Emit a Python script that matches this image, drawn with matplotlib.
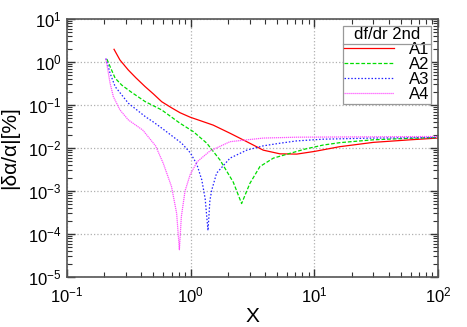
import matplotlib
matplotlib.use("Agg")
import matplotlib.pyplot as plt
from matplotlib.lines import Line2D

plt.rcParams['font.family'] = ['Liberation Sans', 'DejaVu Sans']
plt.rcParams['mathtext.fontset'] = 'custom'
plt.rcParams['mathtext.rm'] = 'Liberation Sans'
plt.rcParams['mathtext.it'] = 'Liberation Sans:italic'

# values
a1_x = [0.24, 0.268, 0.313, 0.36, 0.428, 0.5, 0.583, 0.7, 0.82, 0.99, 1.2, 1.52, 2.08, 2.84, 3.86, 5.27, 7.2, 10, 16, 30, 60, 100]
a1_y = [1.97, 1.11, 0.65, 0.43, 0.267, 0.18, 0.119, 0.086, 0.066, 0.052, 0.043, 0.034, 0.022, 0.014, 0.0089, 0.0073, 0.0072, 0.0083, 0.0107, 0.0135, 0.0155, 0.017]

a2_x = [0.21, 0.223, 0.245, 0.277, 0.33, 0.428, 0.583, 0.82, 1.05, 1.35, 1.73, 2.21, 2.58, 3.01, 3.63, 4.66, 6.35, 8.5, 11.8, 16.1, 30, 60, 100]
a2_y = [1.17, 0.78, 0.42, 0.29, 0.2, 0.12, 0.0766, 0.0375, 0.024, 0.0129, 0.0052, 0.0016, 0.00051, 0.0015, 0.0037, 0.0058, 0.0075, 0.0095, 0.0117, 0.0133, 0.0155, 0.0168, 0.0175]

a3_x = [0.206, 0.215, 0.223, 0.245, 0.313, 0.428, 0.5, 0.583, 0.72, 0.845, 0.99, 1.12, 1.23, 1.31, 1.38, 1.43, 1.48, 1.62, 2.08, 2.84, 3.86, 5.27, 7.2, 11.8, 30, 100]
a3_y = [1.2, 0.8, 0.546, 0.267, 0.11, 0.054, 0.04, 0.029, 0.0183, 0.0129, 0.0078, 0.0042, 0.0018, 0.00065, 0.00012, 0.0006, 0.00105, 0.0026, 0.0058, 0.0089, 0.0112, 0.0129, 0.0146, 0.016, 0.017, 0.0175]

a4_x = [0.206, 0.215, 0.223, 0.237, 0.268, 0.313, 0.41, 0.52, 0.6, 0.7, 0.77, 0.81, 0.84, 0.9, 0.99, 1.13, 1.43, 2.08, 3.86, 7.2, 16.1, 100]
a4_y = [1.2, 0.6, 0.32, 0.156, 0.0766, 0.045, 0.026, 0.0112, 0.0044, 0.00126, 0.0003, 0.000043, 0.00025, 0.001, 0.0024, 0.0048, 0.0085, 0.014, 0.017, 0.0178, 0.018, 0.0185]

fig = plt.figure(figsize=(4.67, 3.27), dpi=100)
ax = fig.add_axes([0.1435, 0.153, 0.7945, 0.789])

ax.plot(a1_x, a1_y, color='#ff0000', lw=0.9, ls='-', label='A1')
ax.plot(a2_x, a2_y, color='#00dd00', lw=0.9, ls=(0, (3, 1.5)), label='A2')
ax.plot(a3_x, a3_y, color='#2222ff', lw=0.9, ls=(0, (1.2, 1.5)), label='A3')
ax.plot(a4_x, a4_y, color='#ff55ff', lw=0.9, ls=(0, (1, 0.6)), label='A4')

ax.set_xscale('log')
ax.set_yscale('log')
ax.set_xlim(0.1, 100)
ax.set_ylim(1e-5, 10)

ax.grid(True, which='major', color='#b0b0b0', ls=':', lw=0.9)
ax.tick_params(which='both', direction='in', top=True, right=True, colors='#333333', labelcolor='black', labelsize=12)
ax.tick_params(which='major', length=6, width=1)
ax.tick_params(which='minor', length=3.5, width=0.8)
ax.tick_params(axis='x', which='major', pad=6.5)
ax.tick_params(axis='y', which='major', pad=4)
ax.xaxis.set_minor_locator(matplotlib.ticker.LogLocator(subs=range(2, 10), numticks=20))
ax.yaxis.set_minor_locator(matplotlib.ticker.LogLocator(subs=range(2, 10), numticks=20))
ax.xaxis.set_minor_formatter(matplotlib.ticker.NullFormatter())
ax.yaxis.set_minor_formatter(matplotlib.ticker.NullFormatter())
for s in ax.spines.values():
    s.set_color('#555555')
    s.set_linewidth(1.2)

ax.set_xlabel('X', fontsize=15, labelpad=1)
ax.set_ylabel('|δα/α|[%]', fontsize=15, labelpad=6)

leg = ax.legend(title='df/dr 2nd', loc='upper right', fancybox=False, framealpha=1,
                edgecolor='#999999', fontsize=12, title_fontsize=12, handlelength=3.0,
                borderaxespad=0.4, labelspacing=0.0, borderpad=0.1, handletextpad=0.9)
leg.get_frame().set_linewidth(0.9)

fig.canvas.draw()
lb = leg.get_window_extent()
tb = leg.get_title().get_window_extent()
yline = tb.y0 - 2
inv = fig.transFigure.inverted()
(x0, y0), (x1, _) = inv.transform([(lb.x0, yline), (lb.x1, yline)])
fig.add_artist(Line2D([x0, x1], [y0, y0], color='#999999', lw=0.9, transform=fig.transFigure))

fig.savefig('out.png', dpi=100)
